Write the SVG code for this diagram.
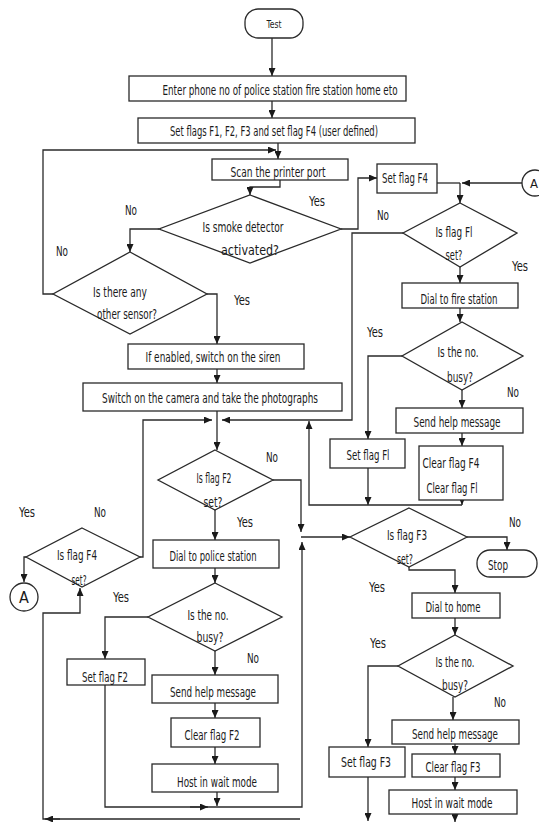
<svg xmlns="http://www.w3.org/2000/svg" width="539" height="822" viewBox="0 0 539 822">
<style>
.n{fill:#fff;stroke:#2a2a2a;stroke-width:1.3}
.c{fill:none;stroke:#2a2a2a;stroke-width:1.3}
.ca{fill:none;stroke:#2a2a2a;stroke-width:1.3;marker-end:url(#ah)}
text{font-family:"Liberation Sans Narrow","DejaVu Sans Condensed","Liberation Sans",sans-serif;font-size:14px;fill:#1a1a1a;text-anchor:middle}
.l{font-size:14px}
</style>
<defs>
<marker id="ah" markerWidth="8" markerHeight="7" refX="8" refY="3.5" orient="auto" markerUnits="userSpaceOnUse">
<path d="M0,0 L8,3.5 L0,7 z" fill="#1a1a1a"/>
</marker>
</defs>
<rect width="539" height="822" fill="#fff"/>
<g id="connectors">
<path class="ca" d="M272,38 V76"/>
<path class="ca" d="M272,101 V118"/>
<path class="ca" d="M278,143 V159"/>
<path class="ca" d="M53,294 H43 V150 H276"/>
<path class="ca" d="M280,180 V187 H250 V195"/>
<path class="ca" d="M341,229 H358 V178 H377"/>
<path class="ca" d="M159,229 H130 V252"/>
<path class="ca" d="M207,294 H217 V344"/>
<path class="ca" d="M217,369 V383"/>
<path class="ca" d="M217,411 V450"/>
<path class="ca" d="M522,183 H462"/>
<path class="c" d="M437,183 H460"/>
<path class="ca" d="M460,183 V203"/>
<path class="ca" d="M403,233 H352 V420 H222"/>
<path class="ca" d="M460,267 V283"/>
<path class="ca" d="M460,308 V322"/>
<path class="ca" d="M402,356 H368 V439"/>
<path class="ca" d="M462,390 V408"/>
<path class="ca" d="M462,433 V446"/>
<path class="ca" d="M368,468 V505"/>
<path class="ca" d="M462,500 V505"/>
<path class="ca" d="M462,505 H309 V421"/>
<path class="ca" d="M140,557 H143 V420 H212"/>
<path class="ca" d="M273,480 H301 V532"/>
<path class="ca" d="M301,537 H350"/>
<path class="ca" d="M215,510 V540"/>
<path class="ca" d="M215,568 V583"/>
<path class="ca" d="M148,617 H105 V659"/>
<path class="ca" d="M215,651 V675"/>
<path class="ca" d="M215,703 V718"/>
<path class="ca" d="M215,747 V764"/>
<path class="ca" d="M217,792 V806"/>
<path class="ca" d="M105,685 V807 H302 V542"/>
<path class="ca" d="M190,807 H208"/>
<path class="ca" d="M467,537 H507 V550"/>
<path class="ca" d="M409,567 V570 H455 V593"/>
<path class="ca" d="M455,618 V635"/>
<path class="ca" d="M398,666 H368 V747"/>
<path class="ca" d="M453,697 V720"/>
<path class="ca" d="M455,744 V754"/>
<path class="ca" d="M455,777 V790"/>
<path class="ca" d="M455,814 V822"/>
<path class="ca" d="M368,777 V821"/>
<path class="ca" d="M300,819 H43 V613 H80 V588"/>
<path class="ca" d="M60,819 H45"/>
<path class="ca" d="M26,557 H24 V582"/>
</g>
<g id="test"><rect class="n" x="245" y="9" width="58" height="29" rx="13"/><text x="274" y="28" style="font-size:11px" textLength="15" lengthAdjust="spacingAndGlyphs">Test</text></g>
<g id="enter"><rect class="n" x="129" y="76" width="277" height="25"/><text x="280" y="95" textLength="235" lengthAdjust="spacingAndGlyphs">Enter  phone no  of police station  fire station  home eto</text></g>
<g id="setflags"><rect class="n" x="138" y="118" width="277" height="25"/><text x="274" y="136" textLength="208" lengthAdjust="spacingAndGlyphs">Set flags F1, F2, F3 and set flag F4 (user defined)</text></g>
<g id="scan"><rect class="n" x="212" y="159" width="136" height="21"/><text x="278" y="177" textLength="95" lengthAdjust="spacingAndGlyphs">Scan the printer port</text></g>
<g id="smoke"><polygon class="n" points="250,195 341,229 250,263 159,229"/><text x="243" y="232" textLength="81" lengthAdjust="spacingAndGlyphs">Is smoke detector</text><text x="250" y="255" textLength="58" lengthAdjust="spacingAndGlyphs">activated?</text></g>
<g id="sensor"><polygon class="n" points="130,252 207,294 130,334 53,294"/><text x="120" y="297" textLength="54" lengthAdjust="spacingAndGlyphs">Is there any</text><text x="127" y="319" textLength="60" lengthAdjust="spacingAndGlyphs">other sensor?</text></g>
<g id="setf4"><rect class="n" x="377" y="164" width="60" height="29"/><text x="405" y="183" textLength="46" lengthAdjust="spacingAndGlyphs">Set flag F4</text></g>
<g id="connA1"><circle class="n" cx="535" cy="183" r="13"/><text x="534" y="188" style="font-size:13px">A</text></g>
<g id="f1"><polygon class="n" points="460,203 517,233 460,267 403,233"/><text x="454" y="237" textLength="37" lengthAdjust="spacingAndGlyphs">Is flag Fl</text><text x="454" y="260" textLength="17" lengthAdjust="spacingAndGlyphs">set?</text></g>
<g id="dialfire"><rect class="n" x="402" y="283" width="116" height="25"/><text x="459" y="304" textLength="77" lengthAdjust="spacingAndGlyphs">Dial to fire station</text></g>
<g id="siren"><rect class="n" x="128" y="344" width="176" height="25"/><text x="213" y="362" textLength="135" lengthAdjust="spacingAndGlyphs">If enabled, switch on the siren</text></g>
<g id="camera"><rect class="n" x="83" y="383" width="259" height="28"/><text x="210" y="403" textLength="216" lengthAdjust="spacingAndGlyphs">Switch on the camera and take the photographs</text></g>
<g id="firebusy"><polygon class="n" points="462,322 523,356 462,390 402,356"/><text x="458" y="357" textLength="41" lengthAdjust="spacingAndGlyphs">Is the no.</text><text x="460" y="382" textLength="26" lengthAdjust="spacingAndGlyphs">busy?</text></g>
<g id="sendfire"><rect class="n" x="396" y="408" width="127" height="25"/><text x="457" y="427" textLength="87" lengthAdjust="spacingAndGlyphs">Send help message</text></g>
<g id="setf1"><rect class="n" x="330" y="439" width="75" height="29"/><text x="368" y="460" textLength="43" lengthAdjust="spacingAndGlyphs">Set flag Fl</text></g>
<g id="clearfire"><rect class="n" x="419" y="446" width="84" height="54"/><text x="451" y="468" textLength="57" lengthAdjust="spacingAndGlyphs">Clear flag F4</text><text x="452" y="493" textLength="51" lengthAdjust="spacingAndGlyphs">Clear flag Fl</text></g>
<g id="f2"><polygon class="n" points="215,450 273,480 215,510 158,480"/><text x="214" y="483" textLength="35" lengthAdjust="spacingAndGlyphs">Is flag F2</text><text x="213" y="507" textLength="19" lengthAdjust="spacingAndGlyphs">set?</text></g>
<g id="f4"><polygon class="n" points="82,528 140,557 82,587 26,557"/><text x="77" y="560" textLength="40" lengthAdjust="spacingAndGlyphs">Is flag F4</text><text x="79" y="585" textLength="15" lengthAdjust="spacingAndGlyphs">set?</text></g>
<g id="connA2"><circle class="n" cx="24" cy="597" r="14"/><text x="24" y="603" style="font-size:16px">A</text></g>
<g id="dialpolice"><rect class="n" x="153" y="540" width="126" height="28"/><text x="213" y="561" textLength="87" lengthAdjust="spacingAndGlyphs">Dial to police station</text></g>
<g id="policebusy"><polygon class="n" points="215,583 282,617 215,651 148,617"/><text x="208" y="620" textLength="41" lengthAdjust="spacingAndGlyphs">Is the no.</text><text x="210" y="642" textLength="27" lengthAdjust="spacingAndGlyphs">busy?</text></g>
<g id="setf2"><rect class="n" x="67" y="659" width="78" height="26"/><text x="105" y="682" textLength="46" lengthAdjust="spacingAndGlyphs">Set flag F2</text></g>
<g id="sendpolice"><rect class="n" x="152" y="675" width="126" height="28"/><text x="213" y="697" textLength="86" lengthAdjust="spacingAndGlyphs">Send help message</text></g>
<g id="clearf2"><rect class="n" x="171" y="718" width="89" height="29"/><text x="212" y="740" textLength="55" lengthAdjust="spacingAndGlyphs">Clear flag F2</text></g>
<g id="hostpolice"><rect class="n" x="152" y="764" width="126" height="28"/><text x="217" y="787" textLength="80" lengthAdjust="spacingAndGlyphs">Host in wait mode</text></g>
<g id="f3"><polygon class="n" points="409,508 467,537 409,567 350,537"/><text x="407" y="540" textLength="40" lengthAdjust="spacingAndGlyphs">Is flag F3</text><text x="405" y="564" textLength="16" lengthAdjust="spacingAndGlyphs">set?</text></g>
<g id="stop"><rect class="n" x="477" y="550" width="60" height="27" rx="13"/><text x="498" y="570" textLength="20" lengthAdjust="spacingAndGlyphs">Stop</text></g>
<g id="dialhome"><rect class="n" x="412" y="593" width="88" height="25"/><text x="453" y="612" textLength="55" lengthAdjust="spacingAndGlyphs">Dial to home</text></g>
<g id="homebusy"><polygon class="n" points="455,635 513,666 455,697 398,666"/><text x="455" y="667" textLength="39" lengthAdjust="spacingAndGlyphs">Is the no.</text><text x="455" y="690" textLength="26" lengthAdjust="spacingAndGlyphs">busy?</text></g>
<g id="sendhome"><rect class="n" x="392" y="720" width="127" height="24"/><text x="455" y="739" textLength="86" lengthAdjust="spacingAndGlyphs">Send help message</text></g>
<g id="setf3"><rect class="n" x="329" y="747" width="76" height="30"/><text x="366" y="767" textLength="50" lengthAdjust="spacingAndGlyphs">Set flag F3</text></g>
<g id="clearf3"><rect class="n" x="412" y="754" width="88" height="23"/><text x="453" y="772" textLength="55" lengthAdjust="spacingAndGlyphs">Clear flag F3</text></g>
<g id="hosthome"><rect class="n" x="389" y="790" width="128" height="24"/><text x="452" y="808" textLength="81" lengthAdjust="spacingAndGlyphs">Host in wait mode</text></g>
<g id="labels">
<text class="l" x="317" y="206" textLength="16" lengthAdjust="spacingAndGlyphs">Yes</text>
<text class="l" x="131" y="215" textLength="12" lengthAdjust="spacingAndGlyphs">No</text>
<text class="l" x="62" y="256" textLength="12" lengthAdjust="spacingAndGlyphs">No</text>
<text class="l" x="242" y="305" textLength="16" lengthAdjust="spacingAndGlyphs">Yes</text>
<text class="l" x="383" y="220" textLength="12" lengthAdjust="spacingAndGlyphs">No</text>
<text class="l" x="520" y="271" textLength="16" lengthAdjust="spacingAndGlyphs">Yes</text>
<text class="l" x="375" y="337" textLength="16" lengthAdjust="spacingAndGlyphs">Yes</text>
<text class="l" x="513" y="397" textLength="12" lengthAdjust="spacingAndGlyphs">No</text>
<text class="l" x="272" y="462" textLength="12" lengthAdjust="spacingAndGlyphs">No</text>
<text class="l" x="245" y="527" textLength="16" lengthAdjust="spacingAndGlyphs">Yes</text>
<text class="l" x="27" y="517" textLength="16" lengthAdjust="spacingAndGlyphs">Yes</text>
<text class="l" x="100" y="517" textLength="12" lengthAdjust="spacingAndGlyphs">No</text>
<text class="l" x="121" y="602" textLength="16" lengthAdjust="spacingAndGlyphs">Yes</text>
<text class="l" x="253" y="663" textLength="12" lengthAdjust="spacingAndGlyphs">No</text>
<text class="l" x="515" y="527" textLength="12" lengthAdjust="spacingAndGlyphs">No</text>
<text class="l" x="377" y="592" textLength="16" lengthAdjust="spacingAndGlyphs">Yes</text>
<text class="l" x="378" y="648" textLength="16" lengthAdjust="spacingAndGlyphs">Yes</text>
<text class="l" x="500" y="707" textLength="12" lengthAdjust="spacingAndGlyphs">No</text>
</g>
</svg>
